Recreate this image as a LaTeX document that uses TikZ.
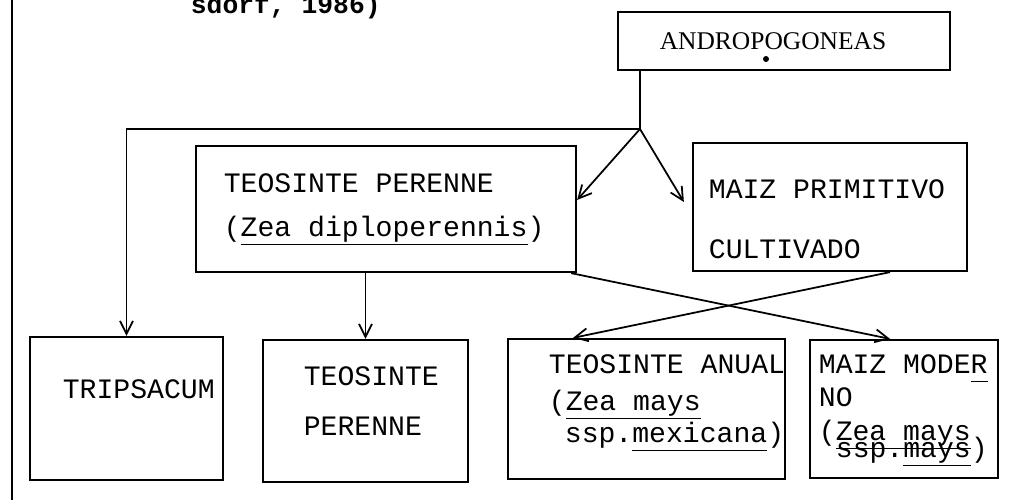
\documentclass[tikz,border=0pt]{standalone}
\usepackage{fontspec}
\setmonofont{Liberation Mono}
\newfontfamily\labelserif{Liberation Serif}
\usetikzlibrary{arrows.meta, positioning, calc}
\newcommand{\tw}{\ttfamily\fontsize{16}{18}\selectfont}
\newcommand{\sciname}[1]{\underline{\vphantom{y}#1}}

\begin{document}
\begin{tikzpicture}[x=0.02cm, y=-0.02cm,
      >={Straight Barb[length=2.6mm, width=2.6mm]}, line width=1pt,
      box/.style={draw, rectangle, line width=1.3pt, inner sep=0pt},
      txt/.style={anchor=base west, inner sep=0pt, font=\tw}]
    \clip (0,0) rectangle (1017,500);
    % margin line and cut-off reference
    \draw[line width=1.6pt] (12,0) -- (12,500);
    \node[txt, font=\ttfamily\bfseries\fontsize{15}{18}\selectfont] (ref) at (190,14) {sdorf, 1986)};
    % boxes
    \node[box, minimum width=6.64cm, minimum height=1.16cm] (andro) at (784,41) {};
    \node[anchor=base, inner sep=0pt, font=\labelserif\fontsize{14.5}{18}\selectfont] (andro-t) at (773,50) {ANDROPOGONEAS};
    \fill (766,59) circle (0.06cm);
    \node[box, minimum width=7.6cm, minimum height=2.52cm] (tpA) at (386,209) {};
    \node[txt] (tpA-1) at (223,192) {TEOSINTE PERENNE};
    \node[txt] (tpA-2) at (223,236) {(\sciname{Zea diploperennis})};
    \node[box, minimum width=5.48cm, minimum height=2.56cm] (mprim) at (830,207) {};
    \node[txt] (mprim-1) at (708,198) {MAIZ PRIMITIVO};
    \node[txt] (mprim-2) at (708,258) {CULTIVADO};
    \node[box, minimum width=3.86cm, minimum height=2.86cm] (trip) at (126.5,408.5) {};
    \node[txt] (trip-1) at (62,398) {TRIPSACUM};
    \node[box, minimum width=4.1cm, minimum height=2.84cm] (tpB) at (365.5,411) {};
    \node[txt] (tpB-1) at (303,385) {TEOSINTE};
    \node[txt] (tpB-2) at (303,435) {PERENNE};
    \node[box, minimum width=5.54cm, minimum height=2.8cm] (tanual) at (646.5,409) {};
    \node[txt] (tanual-1) at (548,373) {TEOSINTE ANUAL};
    \node[txt] (tanual-2) at (548,410) {(\sciname{Zea mays}};
    \node[txt] (tanual-3) at (564,442) {ssp.\sciname{mexicana})};
    \node[box, minimum width=3.76cm, minimum height=2.76cm] (mmod) at (904,409) {};
    \node[txt] (mmod-1) at (818,373) {MAIZ MODE\sciname{R}};
    \node[txt] (mmod-2) at (818,406) {NO};
    \node[txt] (mmod-3) at (818,440) {(\sciname{Zea mays}};
    \node[txt] (mmod-4) at (835,457) {ssp.\sciname{mays})};
    % connectors
    \coordinate (j) at (640,129);
    \draw (j |- andro.south) -- (j);
    \draw[->] (j) -| (trip.north);
    \draw[->] (j) -- ([yshift=0.18cm]tpA.east);
    \draw[->] (j) -- ([xshift=-0.16cm, yshift=0.1cm]mprim.west);
    \draw[->] (tpB.north |- tpA.south) -- (tpB.north);
    \draw[->] ([xshift=-0.12cm]tpA.south east) -- ([xshift=-0.28cm]mmod.north);
    \draw[->] ([xshift=1.2cm]mprim.south) -- ([xshift=-1.47cm]tanual.north);
  \end{tikzpicture}
\end{document}
